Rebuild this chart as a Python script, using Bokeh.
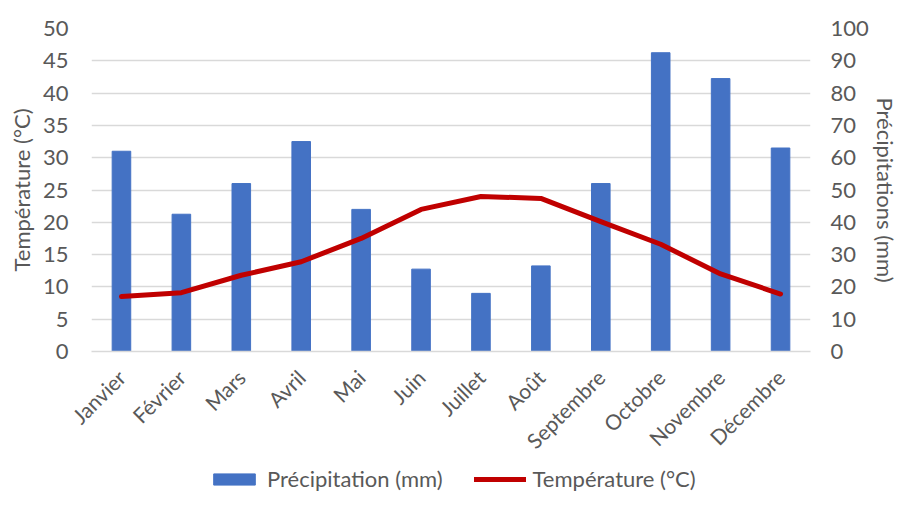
from math import pi
from bokeh.plotting import figure
from bokeh.layouts import column
from bokeh.models import (Range1d, LinearAxis, SingleIntervalTicker, Legend, LegendItem, FactorRange)
from bokeh.embed import file_html
from bokeh.resources import INLINE

months = ["Janvier", "Février", "Mars", "Avril", "Mai", "Juin", "Juillet",
          "Août", "Septembre", "Octobre", "Novembre", "Décembre"]
precip_mm = [62, 42.5, 52, 65, 44, 25.5, 18, 26.5, 52, 92.5, 84.5, 63]
temp_c = [8.5, 9.1, 11.8, 13.9, 17.5, 22.0, 24.0, 23.7, 20.1, 16.6, 12.0, 8.9]
series_names = ["Précipitation (mm)", "Température (°C)"]

FONT = "Lato"
GREY = "#595959"
BLUE = "#4472C4"
RED = "#C00000"

p = figure(width=901, height=466, x_range=FactorRange(*months), y_range=Range1d(0, 50),
           output_backend="svg", toolbar_location=None,
           min_border_left=91, min_border_right=81, min_border_top=28, min_border_bottom=115)
p.outline_line_color = None
p.background_fill_color = "white"
p.border_fill_color = "white"
p.extra_y_ranges = {"precip": Range1d(0, 100)}

p.vbar(x=months, top=precip_mm, width=0.31, y_range_name="precip",
       fill_color=BLUE, line_color=BLUE)
p.line(x=months, y=temp_c, line_color=RED, line_width=5,
       line_cap="round", line_join="round")

la = p.yaxis[0]
la.ticker = SingleIntervalTicker(interval=5)
la.axis_label = "Température (°C)"
ra = LinearAxis(y_range_name="precip", ticker=SingleIntervalTicker(interval=10),
                axis_label="Précipitations (mm)")
p.add_layout(ra, "right")

for ax in (la, ra):
    ax.axis_line_color = None
    ax.major_tick_line_color = None
    ax.minor_tick_line_color = None
    ax.major_tick_out = 0
    ax.major_tick_in = 0
    ax.minor_tick_out = 0
    ax.minor_tick_in = 0
    ax.major_label_text_font = FONT
    ax.major_label_text_font_size = "22px"
    ax.major_label_text_color = GREY
    ax.axis_label_text_font = FONT
    ax.axis_label_text_font_size = "22px"
    ax.axis_label_text_color = GREY
    ax.axis_label_text_font_style = "normal"
la.major_label_standoff = 23
la.axis_label_standoff = 5
ra.major_label_standoff = 20
ra.axis_label_standoff = 0
ra.axis_label_text_line_height = 1.0

xa = p.xaxis[0]
xa.axis_line_color = "#d9d9d9"
xa.axis_line_width = 1.5
xa.major_tick_line_color = None
xa.minor_tick_line_color = None
xa.major_tick_out = 0
xa.major_tick_in = 0
xa.major_label_orientation = pi / 4
xa.major_label_text_font = FONT
xa.major_label_text_font_size = "21px"
xa.major_label_text_color = GREY
xa.major_label_standoff = 22

p.xgrid.grid_line_color = None
p.ygrid.grid_line_color = "#d9d9d9"
p.ygrid.grid_line_width = 1.5

# legend strip below the chart (its glyphs lie outside its visible range)
lg = figure(width=901, height=26, x_range=FactorRange(*months), y_range=Range1d(1000, 1001),
            x_axis_type=None, y_axis_type=None,
            output_backend="svg", toolbar_location=None,
            min_border_left=0, min_border_right=0, min_border_top=0, min_border_bottom=0)
lg.outline_line_color = None
lg.grid.visible = False
lg.background_fill_alpha = 0
rb = lg.vbar(x=months, top=precip_mm, width=0.31, fill_color=BLUE, line_color=BLUE)
rl = lg.line(x=months, y=temp_c, line_color=RED, line_width=5, line_cap="round")
legend = Legend(items=[LegendItem(label=series_names[0], renderers=[rb]),
                       LegendItem(label=series_names[1], renderers=[rl])],
                location=(117, 0), orientation="horizontal",
                border_line_alpha=0, background_fill_alpha=0,
                glyph_width=52, glyph_height=14, label_standoff=7, spacing=31,
                padding=0, margin=0, label_height=22,
                label_text_font=FONT, label_text_font_size="22px", label_text_color=GREY)
lg.add_layout(legend, "center")

layout = column(p, lg, spacing=0)
open("out.html", "w").write(file_html(layout, INLINE))
